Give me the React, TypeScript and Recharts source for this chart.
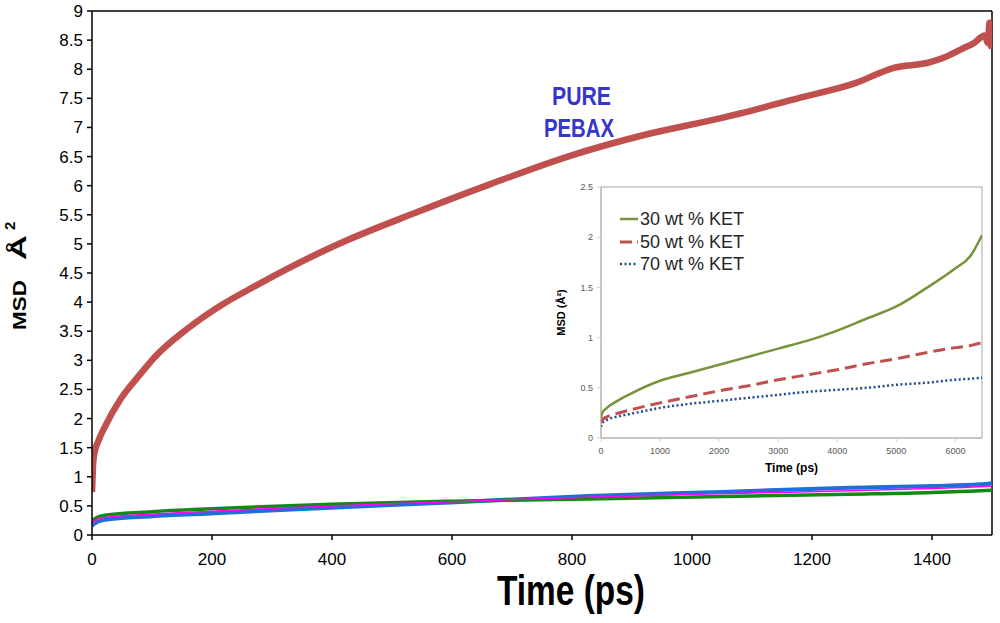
import React from "react";
import {
  LineChart,
  Line,
  XAxis,
  YAxis,
  ReferenceLine,
  Label,
} from "recharts";

const FONT = '"Liberation Sans", Arial, sans-serif';

/* ---------- main chart data (time in ps, MSD in Å²) ---------- */

const pebaxTime = [
  0, 1, 2, 5, 10, 21, 48, 77, 104, 160, 216, 271, 327, 382, 427, 538, 665, 793,
  920, 1048, 1080, 1176, 1272, 1335, 1397, 1420, 1450, 1470, 1488, 1493, 1496,
  1498, 1500,
];
const pebaxMsd = [
  0.74, 1.0, 1.24, 1.45, 1.6, 1.85, 2.34, 2.72, 3.05, 3.55, 3.95, 4.27, 4.58,
  4.86, 5.07, 5.53, 6.03, 6.5, 6.87, 7.16, 7.24, 7.5, 7.76, 8.02, 8.12, 8.2,
  8.35, 8.45, 8.58, 8.45, 8.8, 8.4, 8.7,
];

const blendTime = [0, 2, 21, 100, 198, 398, 598, 827, 1050, 1263, 1400, 1480, 1500];
const greenMsd = [0.22, 0.26, 0.34, 0.4, 0.45, 0.53, 0.58, 0.62, 0.66, 0.7, 0.73, 0.76, 0.77];
const magentaMsd = [0.19, 0.22, 0.3, 0.36, 0.41, 0.5, 0.57, 0.65, 0.71, 0.76, 0.8, 0.83, 0.84];
const blueMsd = [0.15, 0.18, 0.26, 0.32, 0.37, 0.47, 0.56, 0.67, 0.74, 0.81, 0.84, 0.87, 0.89];

const mainXTicks = [0, 200, 400, 600, 800, 1000, 1200, 1400];
const mainYTicks = [0, 0.5, 1, 1.5, 2, 2.5, 3, 3.5, 4, 4.5, 5, 5.5, 6, 6.5, 7, 7.5, 8, 8.5, 9];

/* ---------- inset data ---------- */

const insetTime = [
  0, 20, 100, 250, 500, 1000, 1500, 2000, 2500, 3000, 3500, 4000, 4500, 5000,
  5500, 6000, 6250, 6450,
];
const ket30 = [
  0.2, 0.25, 0.3, 0.36, 0.44, 0.57, 0.65, 0.73, 0.81, 0.89, 0.97, 1.07, 1.19,
  1.31, 1.49, 1.69, 1.81, 2.02,
];
const ket50 = [
  0.15, 0.18, 0.21, 0.24, 0.28, 0.35, 0.41, 0.47, 0.52, 0.58, 0.63, 0.68, 0.74,
  0.79, 0.85, 0.9, 0.92, 0.95,
];
const ket70 = [
  0.11, 0.15, 0.18, 0.21, 0.24, 0.3, 0.34, 0.37, 0.4, 0.43, 0.46, 0.48, 0.5,
  0.53, 0.55, 0.58, 0.59, 0.6,
];

const insetXTicks = [0, 1000, 2000, 3000, 4000, 5000, 6000];
const insetYTicks = [0, 0.5, 1, 1.5, 2, 2.5];

const toRows = (ts: number[], vs: number[]) => ts.map((t, i) => ({ t, v: vs[i] }));

const COLORS = {
  pebax: "#C0504D",
  green: "#138A13",
  magenta: "#FF00FF",
  blue: "#1E6FD6",
  k30: "#77933C",
  k50: "#C0504D",
  k70: "#1F4A8F",
  label: "#3636C8",
};

const insetLegend = [
  { name: "30 wt % KET", color: COLORS.k30, dash: undefined, width: 2.5 },
  { name: "50 wt % KET", color: COLORS.k50, dash: "12 5", width: 3 },
  { name: "70 wt % KET", color: COLORS.k70, dash: "2 2.5", width: 2.5 },
];

function MainYLabel() {
  return (
    <text
      transform="translate(26,330) rotate(-90)"
      fontFamily={FONT}
      fontWeight="bold"
      fill="#000"
    >
      <tspan fontSize={18} textLength={50} lengthAdjust="spacingAndGlyphs">MSD</tspan>
      <tspan fontSize={22} dx={20} textLength={25} lengthAdjust="spacingAndGlyphs">Å</tspan>
      <tspan fontSize={15} dx={5} dy={-11}>2</tspan>
    </text>
  );
}

function MainXLabel() {
  return (
    <text
      x={497}
      y={605}
      fontFamily={FONT}
      fontWeight="bold"
      fontSize={42}
      textLength={148}
      lengthAdjust="spacingAndGlyphs"
      fill="#000"
    >
      Time (ps)
    </text>
  );
}

function InsetLegend() {
  return (
    <div
      style={{
        position: "absolute",
        left: 619,
        top: 208,
        fontFamily: FONT,
        fontSize: 18,
        color: "#262626",
        lineHeight: "22.5px",
      }}
    >
      {insetLegend.map((l) => (
        <div key={l.name} style={{ display: "flex", alignItems: "center", height: 22.5 }}>
          <svg width={20} height={10} style={{ marginRight: 1 }}>
            <line
              x1={1}
              y1={5}
              x2={19}
              y2={5}
              stroke={l.color}
              strokeWidth={l.width}
              strokeDasharray={l.dash}
            />
          </svg>
          <span>{l.name}</span>
        </div>
      ))}
    </div>
  );
}

export default function App() {
  const tickMain = { fontSize: 17, fill: "#000", fontFamily: FONT };
  const tickInset = { fontSize: 9, fill: "#595959", fontFamily: FONT };
  return (
    <div
      style={{
        position: "absolute",
        left: 0,
        top: 0,
        width: 1000,
        height: 623,
        background: "#fff",
        overflow: "hidden",
      }}
    >
      <LineChart width={1000} height={623} margin={{ top: 11, right: 8, left: 0, bottom: 0 }}>
        <XAxis
          type="number"
          dataKey="t"
          domain={[0, 1500]}
          ticks={mainXTicks}
          height={88}
          tick={tickMain}
          tickSize={5}
          tickMargin={13}
          axisLine={{ stroke: "#000", strokeWidth: 1.5 }}
          tickLine={{ stroke: "#000", strokeWidth: 1.5 }}
          allowDataOverflow
        >
          <Label content={<MainXLabel />} />
        </XAxis>
        <YAxis
          type="number"
          domain={[0, 9]}
          ticks={mainYTicks}
          width={92}
          tick={tickMain}
          tickSize={5}
          tickMargin={4}
          interval={0}
          axisLine={{ stroke: "#000", strokeWidth: 1.5 }}
          tickLine={{ stroke: "#000", strokeWidth: 1.5 }}
        >
          <Label content={<MainYLabel />} />
        </YAxis>
        <ReferenceLine y={9} stroke="#000" strokeWidth={1.5} />
        <ReferenceLine x={1500} stroke="#000" strokeWidth={1.5} />
        <Line
          data={toRows(blendTime, blueMsd)}
          dataKey="v"
          type="monotone"
          stroke={COLORS.blue}
          strokeWidth={4}
          dot={false}
          isAnimationActive={false}
        />
        <Line
          data={toRows(blendTime, greenMsd)}
          dataKey="v"
          type="monotone"
          stroke={COLORS.green}
          strokeWidth={3.5}
          dot={false}
          isAnimationActive={false}
        />
        <Line
          data={toRows(blendTime, magentaMsd)}
          dataKey="v"
          type="monotone"
          stroke={COLORS.magenta}
          strokeWidth={1.5}
          dot={false}
          isAnimationActive={false}
        />
        <Line
          data={toRows(pebaxTime, pebaxMsd)}
          dataKey="v"
          type="monotone"
          stroke={COLORS.pebax}
          strokeWidth={6.5}
          dot={false}
          isAnimationActive={false}
        />
      </LineChart>

      <svg
        width={1000}
        height={623}
        style={{ position: "absolute", left: 0, top: 0, pointerEvents: "none" }}
      >
        <text
          x={552}
          y={105}
          fontFamily={FONT}
          fontWeight="bold"
          fontSize={25}
          textLength={59}
          lengthAdjust="spacingAndGlyphs"
          fill={COLORS.label}
        >
          PURE
        </text>
        <text
          x={544}
          y={137}
          fontFamily={FONT}
          fontWeight="bold"
          fontSize={25}
          textLength={70}
          lengthAdjust="spacingAndGlyphs"
          fill={COLORS.label}
        >
          PEBAX
        </text>
      </svg>

      <div style={{ position: "absolute", left: 555, top: 175 }}>
        <LineChart width={432} height={300} margin={{ top: 12, right: 5, left: 0, bottom: 0 }}>
          <XAxis
            type="number"
            dataKey="t"
            domain={[0, 6450]}
            ticks={insetXTicks}
            height={37}
            tick={tickInset}
            tickSize={4}
            tickMargin={6}
            axisLine={{ stroke: "#8c8c8c" }}
            tickLine={{ stroke: "#d0d0d0" }}
            allowDataOverflow
          >
            <Label
              value="Time (ps)"
              position="insideBottom"
              offset={3}
              style={{ fontFamily: FONT, fontWeight: "bold", fontSize: 12, fill: "#000" }}
            />
          </XAxis>
          <YAxis
            type="number"
            domain={[0, 2.5]}
            ticks={insetYTicks}
            width={46}
            tick={tickInset}
            tickSize={4}
            tickMargin={4}
            interval={0}
            axisLine={{ stroke: "#8c8c8c" }}
            tickLine={{ stroke: "#d0d0d0" }}
          >
            <Label
              value="MSD (Å²)"
              angle={-90}
              position="insideLeft"
              offset={6}
              style={{
                fontFamily: FONT,
                fontWeight: "bold",
                fontSize: 11,
                fill: "#000",
                textAnchor: "middle",
              }}
            />
          </YAxis>
          <ReferenceLine y={2.5} stroke="#a6a6a6" />
          <ReferenceLine x={6450} stroke="#a6a6a6" />
          <Line
            data={toRows(insetTime, ket70)}
            dataKey="v"
            name="70 wt % KET"
            type="monotone"
            stroke={COLORS.k70}
            strokeWidth={2.5}
            strokeDasharray="2 2.5"
            dot={false}
            isAnimationActive={false}
          />
          <Line
            data={toRows(insetTime, ket50)}
            dataKey="v"
            name="50 wt % KET"
            type="monotone"
            stroke={COLORS.k50}
            strokeWidth={3}
            strokeDasharray="12 6"
            dot={false}
            isAnimationActive={false}
          />
          <Line
            data={toRows(insetTime, ket30)}
            dataKey="v"
            name="30 wt % KET"
            type="monotone"
            stroke={COLORS.k30}
            strokeWidth={2.5}
            dot={false}
            isAnimationActive={false}
          />
        </LineChart>
      </div>
      <InsetLegend />
    </div>
  );
}
